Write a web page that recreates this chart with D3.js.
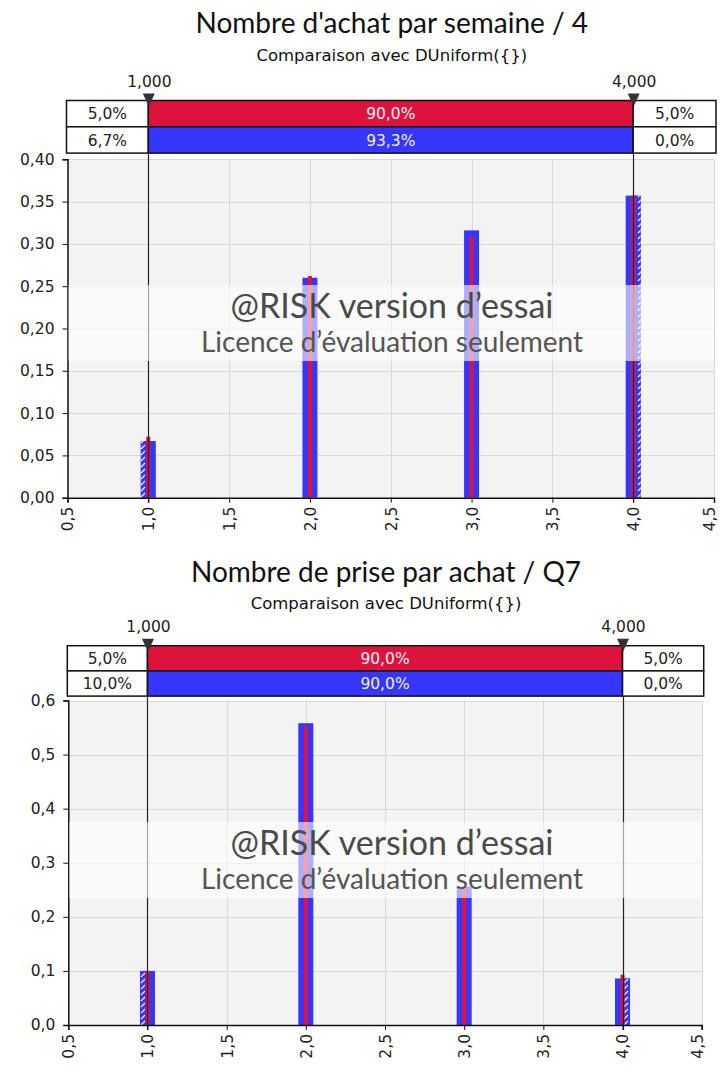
<!DOCTYPE html>
<html>
<head>
<meta charset="utf-8">
<script src="https://cdn.jsdelivr.net/npm/d3@7"></script>
<style>
  body { margin: 0; background: #fff; }
  svg { display: block; }
  text { font-family: "DejaVu Sans", Verdana, sans-serif; }
</style>
</head>
<body>
<svg id="chart"></svg>
<script>

// categories (discrete values) and the two series per chart
const xValues = [1, 2, 3, 4];
const xTicks = [0.5, 1, 1.5, 2, 2.5, 3, 3.5, 4, 4.5];

// chart 1 : Nombre d'achat par semaine / 4
const simA = [0.067, 0.260, 0.316, 0.357];   // blue (simulated)
const fitA = [0.072, 0.262, 0.309, 0.357];   // red (DUniform)
const yTicksA = [0, 0.05, 0.10, 0.15, 0.20, 0.25, 0.30, 0.35, 0.40];
const pctFitA = ["5,0%", "90,0%", "5,0%"];
const pctSimA = ["6,7%", "93,3%", "0,0%"];

// chart 2 : Nombre de prise par achat / Q7
const simB = [0.100, 0.558, 0.256, 0.086];
const fitB = [0.100, 0.552, 0.255, 0.093];
const yTicksB = [0, 0.1, 0.2, 0.3, 0.4, 0.5, 0.6];
const pctFitB = ["5,0%", "90,0%", "5,0%"];
const pctSimB = ["10,0%", "90,0%", "0,0%"];

const markers = [1, 4];
const markerLabels = ["1,000", "4,000"];
const titles = ["Nombre d'achat par semaine / 4", "Nombre de prise par achat / Q7"];
const subtitle = "Comparaison avec DUniform({})";
const wm1 = "@RISK version d\u2019essai";
const wm2 = "Licence d\u2019\u00e9valuation seulement";

const BLUE = "#3636ff";
const RED = "#dc143c";
const SMALL = "DejaVu Sans, Verdana, sans-serif";

const svg = d3.select("#chart")
    .attr("width", 722)
    .attr("height", 1072);

const defs = svg.append("defs");
const pat = defs.append("pattern")
    .attr("id", "hatch")
    .attr("patternUnits", "userSpaceOnUse")
    .attr("width", 7)
    .attr("height", 6);
pat.append("rect").attr("width", 7).attr("height", 6).attr("fill", BLUE);
pat.append("path").attr("d", "M1,5 L5,1").attr("stroke", "#fff").attr("stroke-width", 1.1);

const drawChart = (cfg) => {

    const g = svg.append("g");

    const xScale = d3.scaleLinear()
        .domain([0.5, 4.5])
        .range([cfg.x0, cfg.x1]);
    const yScale = d3.scaleLinear()
        .domain([0, cfg.yMax])
        .range([cfg.y1, cfg.y0]);

    // titles
    g.append("text")
        .attr("x", (cfg.x0 + cfg.x1) / 2 + 1)
        .attr("y", cfg.titleY)
        .attr("text-anchor", "middle")
        .style("font-family", "Lato, sans-serif")
        .style("font-size", "28px")
        .style("fill", "#111")
        .text(cfg.title);

    g.append("text")
        .attr("x", (cfg.x0 + cfg.x1) / 2 + 1)
        .attr("y", cfg.subY)
        .attr("text-anchor", "middle")
        .style("font-family", SMALL)
        .style("font-size", "16.5px")
        .style("fill", "#111")
        .text(subtitle);

    // plot background
    g.append("rect")
        .attr("x", cfg.x0)
        .attr("y", cfg.y0)
        .attr("width", cfg.x1 - cfg.x0)
        .attr("height", cfg.y1 - cfg.y0)
        .attr("fill", "#f3f3f3");

    // grid
    g.append("g")
        .selectAll("line")
        .data(cfg.yTicks.slice(1))
        .join("line")
        .attr("x1", cfg.x0)
        .attr("x2", cfg.x1)
        .attr("y1", d => Math.round(yScale(d)) + 0.5)
        .attr("y2", d => Math.round(yScale(d)) + 0.5)
        .attr("stroke", "#d8d8d8");
    g.append("g")
        .selectAll("line")
        .data(xTicks.slice(1))
        .join("line")
        .attr("x1", d => Math.round(xScale(d)) + 0.5)
        .attr("x2", d => Math.round(xScale(d)) + 0.5)
        .attr("y1", cfg.y0)
        .attr("y2", cfg.y1)
        .attr("stroke", "#d8d8d8");

    const bw = 15;
    const rw = 4;
    const lo = xScale(markers[0]);
    const hi = xScale(markers[1]);

    // simulated bars (blue)
    g.append("g")
        .selectAll("rect")
        .data(cfg.sim)
        .join("rect")
        .attr("x", (d, i) => xScale(xValues[i]) - bw / 2)
        .attr("y", d => yScale(d))
        .attr("width", bw)
        .attr("height", d => cfg.y1 - yScale(d))
        .attr("fill", BLUE);

    // hatched parts outside the marker range
    const hatchParts = [];
    cfg.sim.forEach((d, i) => {
        const a = xScale(xValues[i]) - bw / 2;
        const b = xScale(xValues[i]) + bw / 2;
        if (a < lo) hatchParts.push({ a: a, b: Math.min(b, lo), v: d });
        if (b > hi) hatchParts.push({ a: Math.max(a, hi), b: b, v: d });
    });
    g.append("g")
        .selectAll("rect")
        .data(hatchParts)
        .join("rect")
        .attr("x", d => d.a)
        .attr("y", d => yScale(d.v))
        .attr("width", d => d.b - d.a)
        .attr("height", d => cfg.y1 - yScale(d.v))
        .attr("fill", "url(#hatch)");

    // fitted bars (red)
    g.append("g")
        .selectAll("rect")
        .data(cfg.fit)
        .join("rect")
        .attr("x", (d, i) => xScale(xValues[i]) - rw / 2)
        .attr("y", d => yScale(d))
        .attr("width", rw)
        .attr("height", d => cfg.y1 - yScale(d))
        .attr("fill", RED);

    // marker lines
    g.append("g")
        .selectAll("line")
        .data(markers)
        .join("line")
        .attr("x1", d => Math.round(xScale(d)) + 0.5)
        .attr("x2", d => Math.round(xScale(d)) + 0.5)
        .attr("y1", cfg.rowTop)
        .attr("y2", cfg.y1 + 5)
        .attr("stroke", "#222")
        .attr("stroke-width", 1.2);

    // axes
    const yAxis = d3.axisLeft(yScale)
        .tickValues(cfg.yTicks)
        .tickSize(5)
        .tickPadding(8)
        .tickFormat(d => d3.format(cfg.fmt)(d).replace(".", ","));
    const ya = g.append("g")
        .attr("transform", `translate(${cfg.x0},0)`)
        .call(yAxis);

    const xAxis = d3.axisBottom(xScale)
        .tickValues(xTicks)
        .tickSize(5)
        .tickFormat(d => d3.format(".1f")(d).replace(".", ","));
    const xa = g.append("g")
        .attr("transform", `translate(0,${cfg.y1})`)
        .call(xAxis);
    xa.selectAll("text")
        .attr("transform", "rotate(-90)")
        .attr("text-anchor", "end")
        .attr("x", -9)
        .attr("y", 0)
        .attr("dy", (d, i) => i === xTicks.length - 1 ? "0.05em" : "0.35em");

    [ya, xa].forEach(a => {
        a.select(".domain").attr("stroke", "#111").attr("stroke-width", 1.5);
        a.selectAll(".tick line").attr("stroke", "#111");
        a.selectAll("text")
            .style("font-family", SMALL)
            .style("font-size", "15.5px")
            .style("fill", "#222");
    });

    // watermark band
    g.append("rect")
        .attr("x", cfg.x0 + 1)
        .attr("y", cfg.bandY)
        .attr("width", cfg.x1 - cfg.x0 - 1)
        .attr("height", 76)
        .attr("fill", "#fff")
        .attr("fill-opacity", 0.6);
    g.append("text")
        .attr("x", cfg.wmX)
        .attr("y", cfg.bandY + 33)
        .attr("text-anchor", "middle")
        .style("font-family", "Lato, sans-serif")
        .style("font-size", "34px")
        .style("fill", "#4a4a4a")
        .text(wm1);
    g.append("text")
        .attr("x", cfg.wmX)
        .attr("y", cfg.bandY + 67)
        .attr("text-anchor", "middle")
        .style("font-family", "Lato, sans-serif")
        .style("font-size", "28px")
        .style("fill", "#555")
        .text(wm2);

    // header rows with percentages
    const rowH = cfg.rowH;
    const cols = [[cfg.x0 - 1, lo], [lo, hi], [hi, cfg.x1 + 2]];
    [[cfg.pctFit, RED], [cfg.pctSim, BLUE]].forEach((row, r) => {
        const ry = cfg.rowTop + r * rowH;
        cols.forEach((c, k) => {
            g.append("rect")
                .attr("x", c[0])
                .attr("y", ry)
                .attr("width", c[1] - c[0])
                .attr("height", rowH)
                .attr("fill", k === 1 ? row[1] : "#fff")
                .attr("stroke", "#111")
                .attr("stroke-width", 1.5);
            g.append("text")
                .attr("x", (c[0] + c[1]) / 2)
                .attr("y", ry + rowH / 2)
                .attr("dy", "0.36em")
                .attr("text-anchor", "middle")
                .style("font-family", SMALL)
                .style("font-size", "15.5px")
                .style("fill", k === 1 ? "#f0f0ff" : "#222")
                .text(row[0][k]);
        });
    });

    // triangles and marker labels
    g.append("g")
        .selectAll("path")
        .data(markers)
        .join("path")
        .attr("d", d => {
            const x = xScale(d) + 0.5;
            const t = cfg.rowTop - 7;
            return `M${x - 6},${t} L${x + 6},${t} L${x},${t + 13} Z`;
        })
        .attr("fill", "#333");
    g.append("g")
        .selectAll("text")
        .data(markers)
        .join("text")
        .attr("x", d => xScale(d) + 1)
        .attr("y", cfg.rowTop - 14)
        .attr("text-anchor", "middle")
        .style("font-family", SMALL)
        .style("font-size", "15.5px")
        .style("fill", "#222")
        .text((d, i) => markerLabels[i]);
};

drawChart({
    title: titles[0], titleY: 33, subY: 61,
    x0: 67.5, x1: 714, y0: 159.3, y1: 497.7, yMax: 0.40,
    yTicks: yTicksA, fmt: ".2f",
    sim: simA, fit: fitA, pctFit: pctFitA, pctSim: pctSimA,
    rowTop: 100.5, rowH: 26.3, bandY: 285, wmX: 392
});

drawChart({
    title: titles[1], titleY: 582, subY: 609,
    x0: 68.3, x1: 701.7, y0: 700.5, y1: 1025, yMax: 0.6,
    yTicks: yTicksB, fmt: ".1f",
    sim: simB, fit: fitB, pctFit: pctFitB, pctSim: pctSimB,
    rowTop: 645.7, rowH: 25.2, bandY: 822, wmX: 392
});

</script>
</body>
</html>
